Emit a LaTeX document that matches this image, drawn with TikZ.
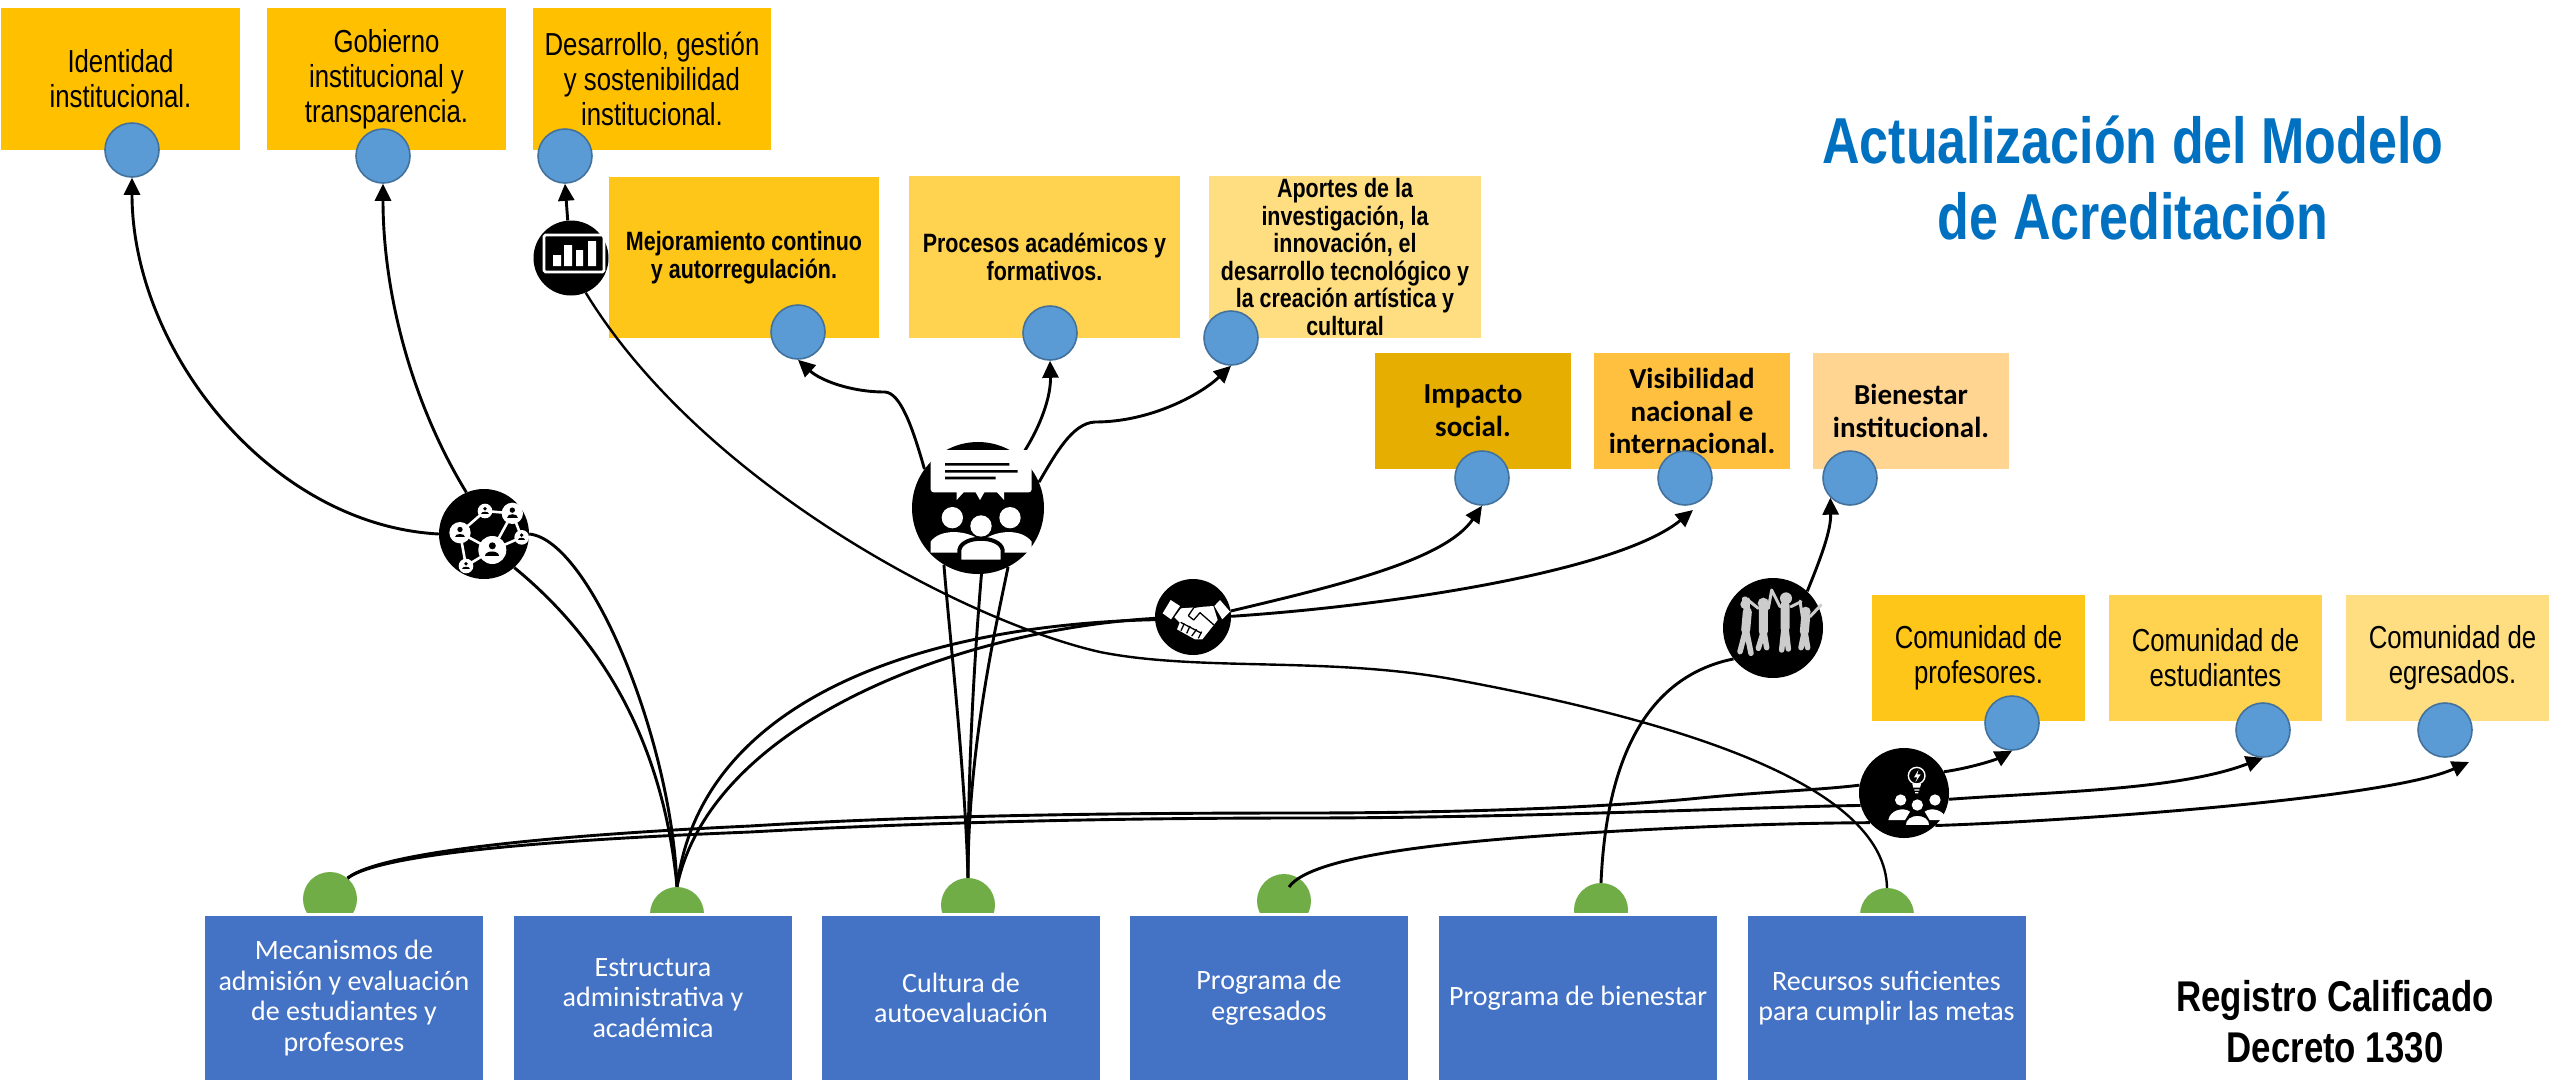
\documentclass[tikz,border=0pt]{standalone}
\usepackage{fontspec}
\usetikzlibrary{arrows.meta}
\newfontfamily\arn[FakeStretch=0.81]{Liberation Sans}
\newfontfamily\art[FakeStretch=0.80]{Liberation Sans}
\newfontfamily\calfam{Carlito}
\definecolor{amA}{HTML}{FFC000}
\definecolor{amB}{HTML}{FFC61A}
\definecolor{amC}{HTML}{FFD34F}
\definecolor{amD}{HTML}{FFDE81}
\definecolor{amE}{HTML}{E6AE00}
\definecolor{amF}{HTML}{FFC03F}
\definecolor{amG}{HTML}{FFD591}
\definecolor{blueBox}{HTML}{4472C4}
\definecolor{dotBlue}{HTML}{5B9BD5}
\definecolor{dotEdge}{HTML}{41719C}
\definecolor{dotGreen}{HTML}{70AD47}
\definecolor{titleBlue}{HTML}{0070C0}
\definecolor{figGray}{HTML}{CCCCCC}
\tikzset{
  topbox/.style={inner sep=0pt,align=center,font=\arn\fontsize{31.8}{35}\selectfont},
  boldbox/.style={inner sep=0pt,align=center,font=\arn\bfseries\fontsize{26.5}{27.5}\selectfont},
  calbox/.style={inner sep=0pt,align=center,font=\calfam\bfseries\fontsize{29}{32.7}\selectfont},
  bluebox/.style={fill=blueBox,text=white,inner sep=0pt,align=center,font=\calfam\fontsize{28}{30.7}\selectfont,minimum width=278pt,minimum height=164pt},
  dot/.style={circle,fill=dotBlue,draw=dotEdge,line width=1.6pt,minimum size=54pt,inner sep=0pt},
  gdot/.style={circle,fill=dotGreen,minimum size=54pt,inner sep=0pt},
  hub/.style={circle,fill=black,inner sep=0pt},
  conn/.style={line width=2.9pt,draw=black},
  arr/.style={conn,-{Triangle[length=17pt,width=16pt]}},
  fig/.style={draw=figGray,line cap=round,line join=round},
}
% person marker for the network icon
\newcommand{\netp}[3]{%
  \fill[white] (#1,#2) circle (#3);
  \fill[black] (#1,#2-0.3*#3) circle (0.25*#3);
  \fill[black] (#1-0.5*#3,#2+0.4*#3) .. controls (#1-0.5*#3,#2) and (#1+0.5*#3,#2) .. (#1+0.5*#3,#2+0.4*#3) -- cycle;
}
\begin{document}
\begin{tikzpicture}[x=1pt,y=-1pt]
\useasboundingbox (0,0) rectangle (2549,1080);
% upper boxes
\node[topbox,fill=amA,minimum width=239pt,minimum height=142pt] (b1) at (120.5,79) {Identidad\\institucional.};
\node[topbox,fill=amA,minimum width=239pt,minimum height=142pt] (b2) at (386.5,79) {Gobierno\\institucional y\\transparencia.};
\node[topbox,fill=amA,minimum width=238pt,minimum height=142pt] (b3) at (652,79) {Desarrollo, gestión\\y sostenibilidad\\institucional.};
\node[boldbox,fill=amB,minimum width=270pt,minimum height=161pt] (b4) at (744,257.5) {Mejoramiento continuo\\y autorregulación.};
\node[boldbox,fill=amC,minimum width=271pt,minimum height=162pt] (b5) at (1044.5,257) {Procesos académicos y\\formativos.};
\node[boldbox,fill=amD,minimum width=272pt,minimum height=162pt] (b6) at (1345,257) {Aportes de la\\investigación, la\\innovación, el\\desarrollo tecnológico y\\la creación artística y\\cultural};
\node[calbox,fill=amE,minimum width=196pt,minimum height=116pt] (b7) at (1473,411) {Impacto\\social.};
\node[calbox,fill=amF,minimum width=196pt,minimum height=116pt] (b8) at (1692,411) {Visibilidad\\nacional e\\internacional.};
\node[calbox,fill=amG,minimum width=196pt,minimum height=116pt] (b9) at (1911,411) {Bienestar\\institucional.};
\node[topbox,fill=amB,minimum width=213pt,minimum height=126pt] (b10) at (1978.5,658) {Comunidad de\\profesores.};
\node[topbox,fill=amC,minimum width=213pt,minimum height=126pt] (b11) at (2215.5,658) {Comunidad de\\estudiantes};
\node[topbox,fill=amD,minimum width=213pt,minimum height=126pt] (b12) at (2452.5,658) {Comunidad de\\egresados.};
% blue dots
\node[dot] (c1) at (132,150) {};
\node[dot] (c2) at (383,156) {};
\node[dot] (c3) at (565,156) {};
\node[dot] (c4) at (798,332) {};
\node[dot] (c5) at (1050,333) {};
\node[dot] (c6) at (1231,338) {};
\node[dot] (c7) at (1482,478) {};
\node[dot] (c8) at (1685,478) {};
\node[dot] (c9) at (1850,478) {};
\node[dot] (c10) at (2012,723) {};
\node[dot] (c11) at (2263,730) {};
\node[dot] (c12) at (2445,730) {};
\coordinate (p8) at (1693,510);
\coordinate (p12) at (2469,762);
% green dots
\node[gdot] (g1) at (330,899) {};
\node[gdot] (g2) at (677,914) {};
\node[gdot] (g3) at (968,905) {};
\node[gdot] (g4) at (1284,901) {};
\node[gdot] (g5) at (1601,910) {};
\node[gdot] (g6) at (1887,915) {};
\coordinate (g4s) at (1289,887);
% mask and blue boxes
\fill[white] (0,913) rectangle (2549,945);
\node[bluebox] (s1) at (344,998) {Mecanismos de\\admisión y evaluación\\de estudiantes y\\profesores};
\node[bluebox] (s2) at (653,998) {Estructura\\administrativa y\\académica};
\node[bluebox] (s3) at (961,998) {Cultura de\\autoevaluación};
\node[bluebox] (s4) at (1269,998) {Programa de\\egresados};
\node[bluebox] (s5) at (1578,998) {Programa de bienestar};
\node[bluebox] (s6) at (1886.5,998) {Recursos suficientes\\para cumplir las metas};
% hubs
\node[hub,minimum size=90pt] (net) at (484,534) {};
\node[hub,minimum size=132pt] (meet) at (978,508) {};
\node[hub,minimum size=75pt] (chart) at (571,258) {};
\node[hub,minimum size=76pt] (shake) at (1193,617) {};
\node[hub,minimum size=100pt] (team) at (1773,628) {};
\node[hub,minimum size=90pt] (idea) at (1904,793) {};
% connectors
\draw[conn] (g2.north) .. controls (672,740) and (590,540) .. (net.east);
\draw[conn] (g2.north) .. controls (665,760) and (615,650) .. (net.-48);
\draw[arr] (net.west) .. controls (270,525) and (132,350) .. (c1.south);
\draw[arr] (net.113) .. controls (410,400) and (383,290) .. (c2.south);
\draw[arr] (chart.95) -- (c3.south);
\draw[conn,line width=2.4pt] (g6.north) .. controls (1885,790) and (1700,725) .. (1457,680)
   .. controls (1330,656) and (1200,672) .. (1100,652)
   .. controls (960,620) and (700,480) .. (chart.-67);
\draw[conn] (g3.north) .. controls (965,770) and (950,640) .. (meet.239);
\draw[conn] (g3.north) .. controls (968,760) and (975,650) .. (meet.273);
\draw[conn] (g3.north) .. controls (968,750) and (995,630) .. (meet.297);
\draw[arr] (meet.144) .. controls (912,425) and (900,393) .. (885,392) .. controls (850,392) and (820,380) .. (c4.south);
\draw[arr] (meet.50) .. controls (1042,425) and (1051,395) .. (c5.south);
\draw[arr] (meet.23) .. controls (1055,455) and (1072,423) .. (1095,422) .. controls (1150,422) and (1200,395) .. (c6.south);
\draw[conn] (g2.north) .. controls (700,700) and (920,625) .. (shake.184);
\draw[conn] (g2.north) .. controls (710,725) and (955,630) .. (shake.182);
\draw[arr] (shake.9) .. controls (1340,585) and (1445,560) .. (c7.south);
\draw[arr] (shake.1) .. controls (1400,605) and (1620,570) .. (p8);
\draw[conn] (g5.north) .. controls (1605,790) and (1630,680) .. (team.218);
\draw[arr] (team.47) .. controls (1822,555) and (1831,530) .. (c9.225);
\draw[conn] (g1.50) .. controls (385,848) and (600,833) .. (750,826) .. controls (930,815) and (1120,813) .. (1300,813) .. controls (1450,813) and (1600,808) .. (1700,798) .. controls (1760,792) and (1820,790) .. (idea.170);
\draw[arr] (idea.28) .. controls (1970,768) and (1995,760) .. (c10.south);
\draw[conn] (g1.50) .. controls (385,850) and (600,838) .. (750,832) .. controls (930,822) and (1120,818) .. (1300,818) .. controls (1450,818) and (1600,813) .. (1700,810) .. controls (1760,808) and (1820,806) .. (idea.196);
\draw[arr] (idea.-8) .. controls (2050,792) and (2180,790) .. (c11.south);
\draw[conn] (g4s) .. controls (1315,850) and (1500,836) .. (1700,827) .. controls (1770,824) and (1820,823) .. (idea.221);
\draw[arr] (idea.-46) .. controls (2050,822) and (2385,800) .. (p12);
% chart icon
\draw[white,line width=2.6pt,rounded corners=1.5pt] (544,235) rectangle (604,272);
\fill[white] (553,255) rectangle (561,266) (564,245) rectangle (572,266) (576,250) rectangle (583,266) (588,241) rectangle (596,266);
% meeting icon
\begin{scope}[shift={(780,340)},scale=1/3]
  \fill[white,rounded corners=3pt] (452,330) -- (755,330) -- (755,457) -- (452,457) -- cycle;
  \fill[white] (530,450)--(530,480)--(557,450)--cycle (583,450)--(600,480)--(617,450)--cycle (645,450)--(672,480)--(672,450)--cycle;
  \fill[black] (495,369) rectangle (688,377) (495,390) rectangle (713,398) (495,410) rectangle (647,418);
  \fill[white] (517,533) circle (32) (690,533) circle (32) (603,558) circle (32);
  \fill[white] (452,638) -- (452,605) .. controls (480,565) and (560,570) .. (600,600) -- (600,638) -- cycle;
  \fill[white] (755,638) -- (755,605) .. controls (725,565) and (650,570) .. (610,600) -- (610,638) -- cycle;
  \filldraw[fill=white,draw=black,line width=4pt] (538,665) -- (538,630) .. controls (545,585) and (660,585) .. (668,630) -- (668,665) -- cycle;
\end{scope}
% network icon
\begin{scope}[shift={(435,485)},scale=1/3]
  \draw[white,line width=2.6pt] (75,143)--(150,78)--(232,85)--(260,157)--(172,195)--(75,143)--(93,243)--(172,195)--(232,85);
  \netp{75}{143}{32}\netp{150}{78}{22}\netp{232}{85}{32}\netp{260}{157}{22}\netp{172}{195}{42}\netp{93}{243}{22}
\end{scope}
% handshake icon
\begin{scope}[shift={(1145,570)},scale=1/3]
  \fill[white] (77,90)--(105,108)--(78,148)--(53,130)--cycle;
  \fill[white] (225,90)--(255,125)--(232,148)--(208,108)--cycle;
  \fill[white] (88,142)--(108,115)--(205,108)--(218,150)--(172,208)--(150,208)--(96,178)--(104,158)--cycle;
  \draw[black,line width=1.3pt,line join=round] (130,137)--(147,112)--(172,108);
  \draw[black,line width=1.3pt,line join=round] (130,137)--(146,150)--(165,128)--(207,165);
  \draw[black,line width=1.3pt] (107,157)--(170,190) (118,160)--(108,182) (135,168)--(125,190) (155,178)--(140,198) (170,185)--(160,205);
\end{scope}
% group of people icon
\begin{scope}[shift={(1715,575)},scale=1/3]
  \fill[figGray] (90,88) circle (14) (145,85) circle (17) (213,70) circle (18) (272,110) circle (15);
  \draw[fig,line width=9pt] (97,110)--(92,165) (145,100)--(145,170) (210,90)--(210,160) (272,125)--(268,170);
  \draw[fig,line width=5.5pt] (92,165)--(75,230) (94,165)--(108,235) (145,170)--(130,220) (147,170)--(155,218) (207,160)--(200,225) (213,160)--(220,222) (268,170)--(258,218) (270,170)--(278,218);
  \draw[fig,line width=3pt] (92,115)--(85,70) (100,112)--(100,72) (130,100)--(90,68) (160,100)--(170,45) (195,95)--(170,45) (228,95)--(258,80) (262,125)--(255,78) (285,125)--(318,90);
\end{scope}
% idea icon
\begin{scope}[shift={(1855,745)},scale=1/3]
  \draw[white,line width=1.4pt] (185,92) circle (25);
  \fill[white] (190,75)--(177,97)--(187,97)--(181,112)--(197,88)--(187,88)--cycle;
  \fill[white] (172,117)--(198,117)--(195,128)--(175,128)--cycle (178,133) rectangle (193,137) (180,141) rectangle (190,145);
  \fill[white] (137,165) circle (17) (240,165) circle (17) (187,180) circle (17);
  \fill[white] (100,225) .. controls (105,195) and (145,185) .. (165,200) -- (150,225) -- cycle;
  \fill[white] (274,225) .. controls (269,195) and (229,185) .. (209,200) -- (224,225) -- cycle;
  \filldraw[fill=white,draw=black,line width=1.3pt] (150,242) .. controls (150,200) and (225,200) .. (225,242) -- cycle;
\end{scope}
% titles
\node[inner sep=0pt,align=center,text=titleBlue,font=\art\bfseries\fontsize{65}{76.5}\selectfont] (title) at (2133,178) {Actualización del Modelo\\de Acreditación};
\node[inner sep=0pt,align=center,font=\arn\bfseries\fontsize{43}{51}\selectfont] (reg) at (2335,1022) {Registro Calificado\\Decreto 1330};
\end{tikzpicture}
\end{document}
